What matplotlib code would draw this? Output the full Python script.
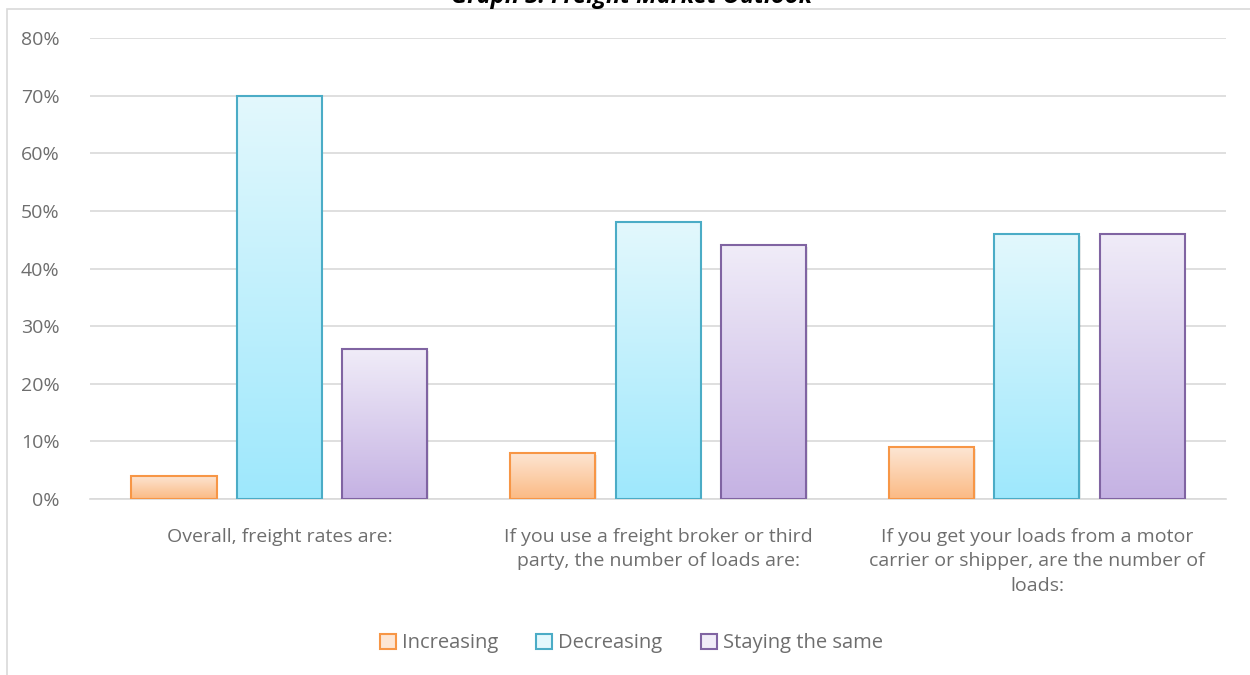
import numpy as np
import matplotlib.pyplot as plt
from matplotlib.patches import Rectangle, Patch
from matplotlib.colors import LinearSegmentedColormap
from matplotlib.ticker import PercentFormatter

categories = [
    "Overall, freight rates are:",
    "If you use a freight broker or third\nparty, the number of loads are:",
    "If you get your loads from a motor\ncarrier or shipper, are the number of\nloads:",
]
series = ["Increasing", "Decreasing", "Staying the same"]
increasing = [4, 8, 9]
decreasing = [70, 48, 46]
staying = [26, 44, 46]

# (top colour, bottom colour, edge colour) per series
styles = [
    ("#FDE6D4", "#FBBA84", "#F79646"),
    ("#E3F8FD", "#9EE8FC", "#4BACC6"),
    ("#F0ECF8", "#C5B2E3", "#8064A2"),
]
text_grey = "#6E6E6E"

plt.rcParams['font.family'] = ['Open Sans', 'DejaVu Sans']

fig = plt.figure(figsize=(12.5, 6.75), dpi=100)
ax = fig.add_axes([0.072, 0.2607, 0.909, 0.683])

x = np.arange(len(categories))
width = 0.225
step = 0.278

grad = np.linspace(0, 1, 256).reshape(-1, 1)
for i, (vals, (top, bot, edge)) in enumerate(zip([increasing, decreasing, staying], styles)):
    cmap = LinearSegmentedColormap.from_list("g%d" % i, [bot, top])
    bars = ax.bar(x + (i - 1) * step, vals, width, color="none",
                  edgecolor=edge, linewidth=1.5, zorder=3)
    for b in bars:
        bx, by = b.get_x(), b.get_y()
        bw, bh = b.get_width(), b.get_height()
        # soft drop shadow
        ax.add_patch(Rectangle((bx + 0.004, by), bw, bh - 0.3, facecolor="#000000",
                               alpha=0.08, edgecolor="none", zorder=2))
        im = ax.imshow(grad, cmap=cmap, aspect="auto", origin="lower",
                       extent=(bx, bx + bw, by, by + bh), zorder=2.5)
        im.set_clip_path(b)

ax.set_xlim(-0.5, 2.5)
ax.set_ylim(0, 80)
ax.set_yticks(range(0, 81, 10))
ax.yaxis.set_major_formatter(PercentFormatter(decimals=0))
ax.set_xticks(x)
ax.set_xticklabels(categories, fontsize=14, color=text_grey, linespacing=1.45)
ax.tick_params(axis="y", labelsize=14, labelcolor=text_grey, length=0, pad=22)
ax.tick_params(axis="x", length=0, pad=21)
ax.grid(axis="y", color="#D9D9D9", linewidth=1.2, zorder=0)
ax.set_axisbelow(True)
for s in ["top", "right", "left"]:
    ax.spines[s].set_visible(False)
ax.spines["bottom"].set_color("#D9D9D9")
ax.spines["bottom"].set_linewidth(1.2)

handles = [Patch(facecolor=top, edgecolor=edge, linewidth=1.5, label=name)
           for name, (top, bot, edge) in zip(series, styles)]
fig.legend(handles=handles, loc="center", bbox_to_anchor=(0.505, 0.047), ncol=3,
           frameon=False, fontsize=14.5, labelcolor=text_grey, handlelength=0.8,
           handleheight=0.8, handletextpad=0.3, columnspacing=1.9)

# chart area border
fig.add_artist(Rectangle((7 / 1250, -0.1), 1.1, 1.1 - 9 / 675, transform=fig.transFigure,
                         facecolor="none", edgecolor="#D9D9D9", linewidth=1.2))

fig.text(0.505, 1 - 3 / 675, "Graph 3: Freight Market Outlook", ha="center", va="baseline",
         fontsize=17, fontweight="bold", fontstyle="italic", color="black")

fig.savefig("out.png", dpi=100)
